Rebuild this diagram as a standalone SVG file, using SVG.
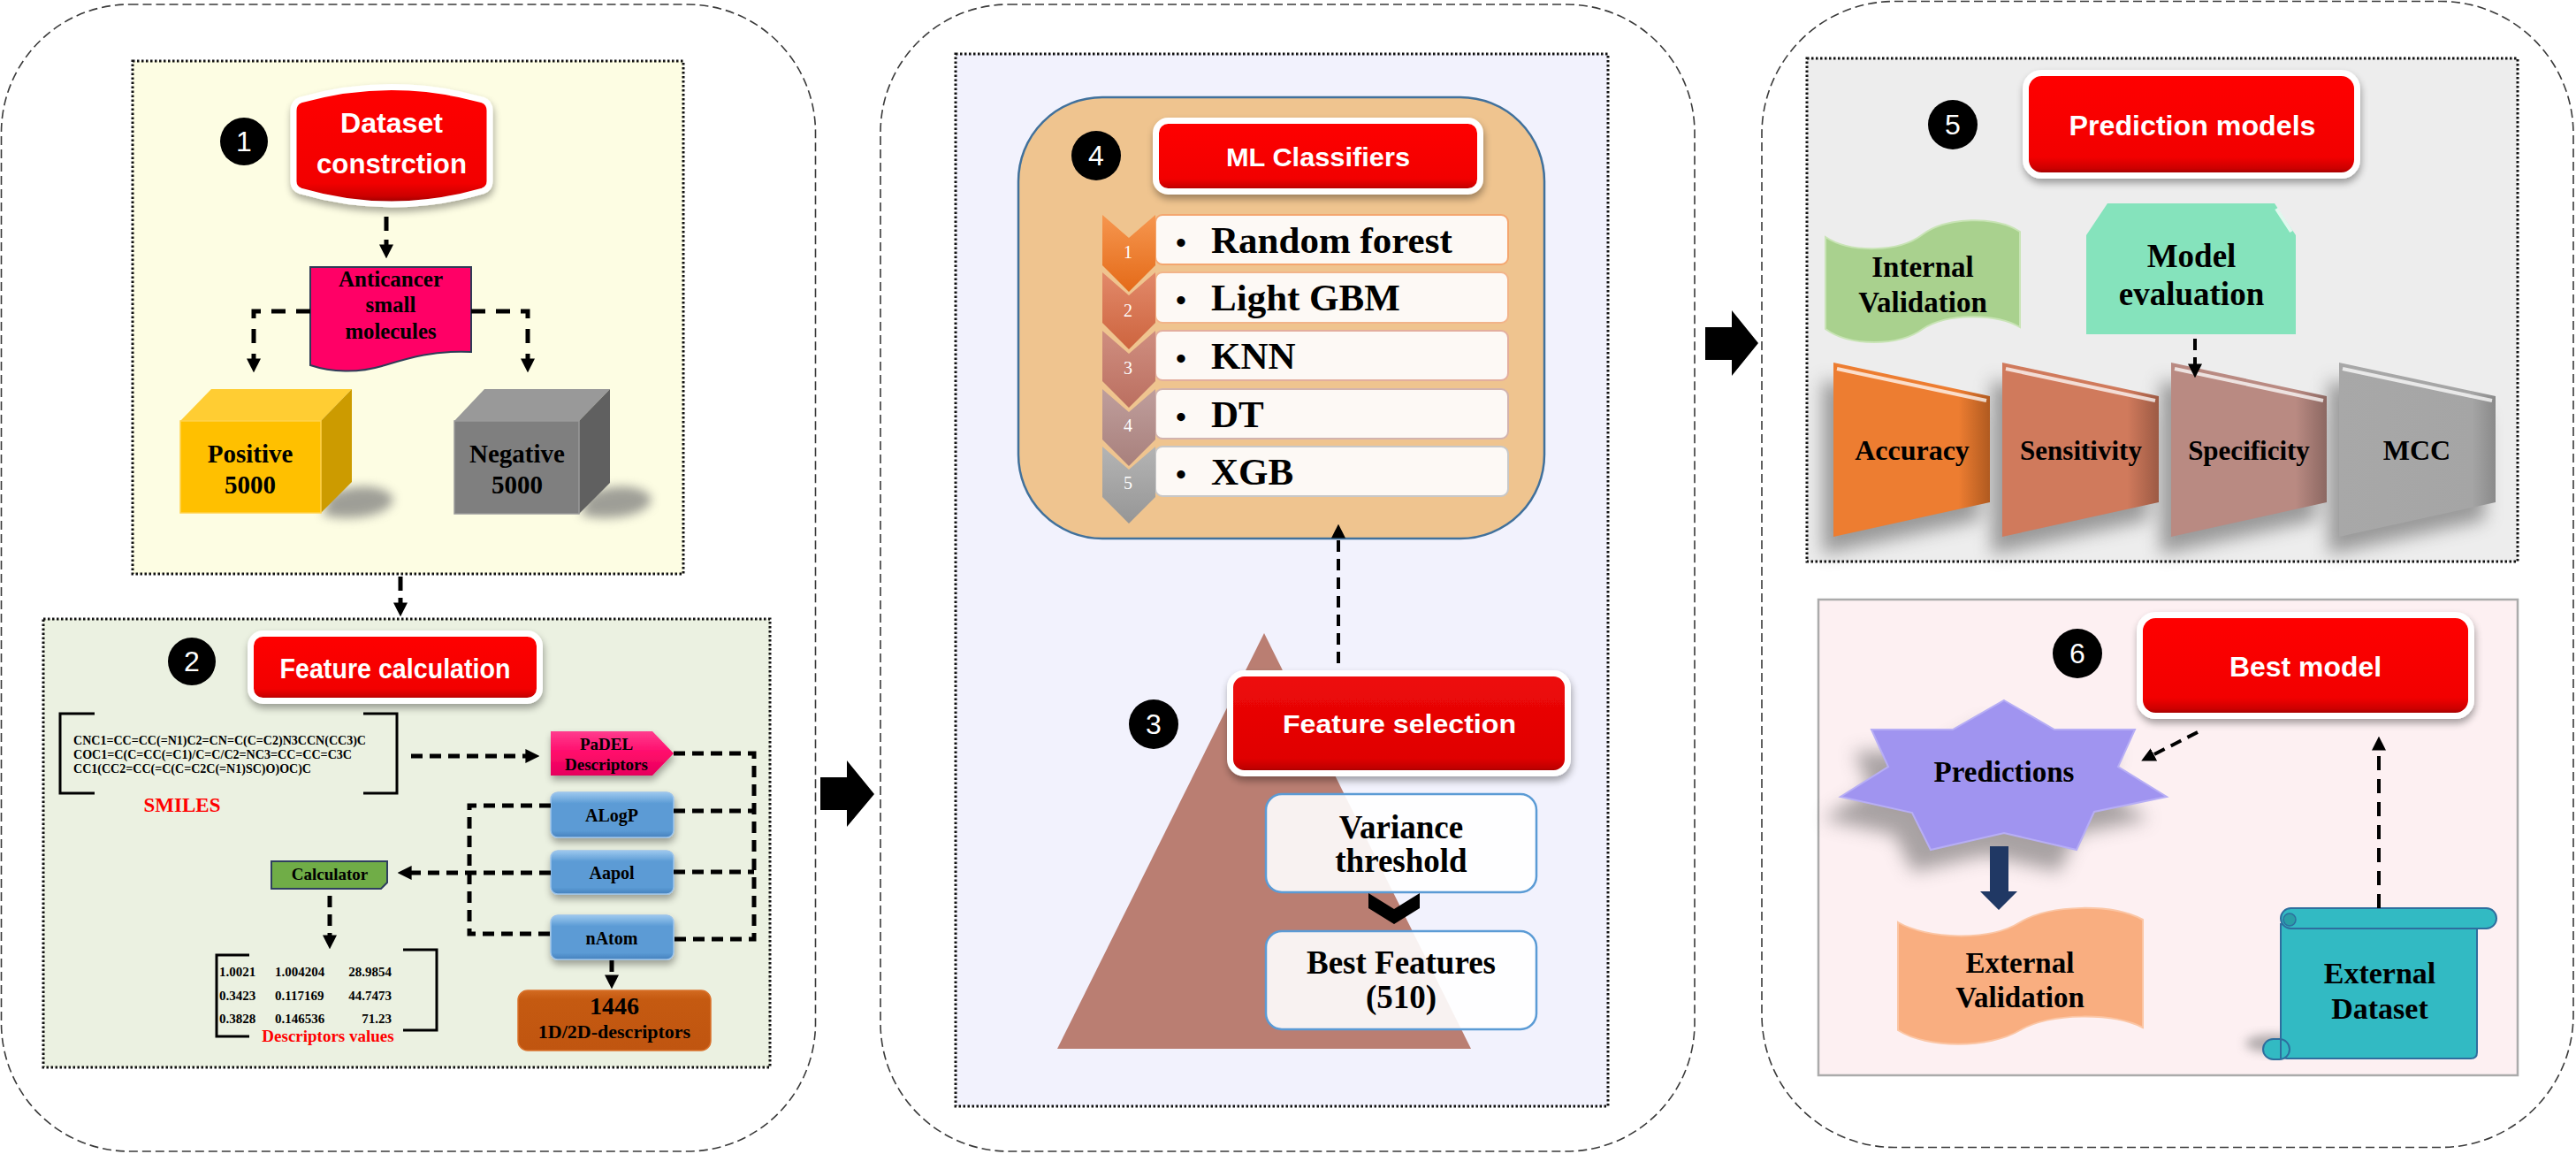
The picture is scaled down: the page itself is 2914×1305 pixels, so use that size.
<svg xmlns="http://www.w3.org/2000/svg" width="2914" height="1305" viewBox="0 0 2914 1305">
<defs>
<style>
.panel{fill:none;stroke:#3a3a3a;stroke-width:1.6;stroke-dasharray:10 5}
.dot{stroke:#111;stroke-width:3;stroke-dasharray:2.5 2.5}
.conn{fill:none;stroke:#000;stroke-width:5;stroke-dasharray:13 8}
.ttl{font-family:"Liberation Sans",Arial,sans-serif;font-weight:bold;fill:#fff;text-anchor:middle}
.num{font-family:"Liberation Sans",Arial,sans-serif;fill:#fff;text-anchor:middle;font-size:32px}
.tb{font-family:"Liberation Serif","Times New Roman",serif;font-weight:bold;fill:#000;text-anchor:middle}
.redbox{stroke:#fff;stroke-width:7}
.blue{fill:url(#blueg);stroke:#9cc3ea;stroke-width:1.5}
.item{fill:#FDF9F5;stroke:#F2B48A;stroke-width:2}
.wb{fill:#ffffff;fill-opacity:0.9;stroke:#5B9BD5;stroke-width:2.5}
.bev{fill:none;stroke:#fff;stroke-opacity:0.75;stroke-width:4}
</style>
<linearGradient id="redg" x1="0" y1="0" x2="0" y2="1">
<stop offset="0" stop-color="#FF0000"/><stop offset="0.82" stop-color="#F20000"/><stop offset="0.93" stop-color="#CC0000"/><stop offset="1" stop-color="#8B0000"/>
</linearGradient>
<linearGradient id="redg2" x1="0" y1="0" x2="0" y2="1">
<stop offset="0" stop-color="#EE0A0A"/><stop offset="0.85" stop-color="#E00000"/><stop offset="0.95" stop-color="#C00000"/><stop offset="1" stop-color="#800000"/>
</linearGradient>
<linearGradient id="blueg" x1="0" y1="0" x2="0" y2="1">
<stop offset="0" stop-color="#9CC8EE"/><stop offset="0.25" stop-color="#5B9BD5"/><stop offset="0.85" stop-color="#5B9BD5"/><stop offset="1" stop-color="#4681BD"/>
</linearGradient>
<linearGradient id="pinkg" x1="0" y1="0" x2="0" y2="1">
<stop offset="0" stop-color="#FF3D8E"/><stop offset="0.5" stop-color="#FF0A6A"/><stop offset="1" stop-color="#E6005C"/>
</linearGradient>
<linearGradient id="orgbox" x1="0" y1="0" x2="0" y2="1">
<stop offset="0" stop-color="#D26A20"/><stop offset="0.15" stop-color="#C55A11"/><stop offset="1" stop-color="#C05510"/>
</linearGradient>
<linearGradient id="ch1" x1="0" y1="0" x2="0" y2="1"><stop offset="0" stop-color="#F6964F"/><stop offset="1" stop-color="#E46A18"/></linearGradient>
<linearGradient id="ch2" x1="0" y1="0" x2="0" y2="1"><stop offset="0" stop-color="#E2896A"/><stop offset="1" stop-color="#CD643E"/></linearGradient>
<linearGradient id="ch3" x1="0" y1="0" x2="0" y2="1"><stop offset="0" stop-color="#CF8E80"/><stop offset="1" stop-color="#BB6F60"/></linearGradient>
<linearGradient id="ch4" x1="0" y1="0" x2="0" y2="1"><stop offset="0" stop-color="#BF9E9C"/><stop offset="1" stop-color="#A8807C"/></linearGradient>
<linearGradient id="ch5" x1="0" y1="0" x2="0" y2="1"><stop offset="0" stop-color="#B4B4B4"/><stop offset="1" stop-color="#969696"/></linearGradient>
<linearGradient id="tz1" x1="0" y1="0" x2="1" y2="0"><stop offset="0" stop-color="#ED7D31"/><stop offset="0.8" stop-color="#ED7D31"/><stop offset="1" stop-color="#B05A20"/></linearGradient>
<linearGradient id="tz2" x1="0" y1="0" x2="1" y2="0"><stop offset="0" stop-color="#D07A5C"/><stop offset="0.8" stop-color="#D07A5C"/><stop offset="1" stop-color="#9C5A44"/></linearGradient>
<linearGradient id="tz3" x1="0" y1="0" x2="1" y2="0"><stop offset="0" stop-color="#B98A82"/><stop offset="0.8" stop-color="#B98A82"/><stop offset="1" stop-color="#8C6862"/></linearGradient>
<linearGradient id="tz4" x1="0" y1="0" x2="1" y2="0"><stop offset="0" stop-color="#A8A8A8"/><stop offset="0.85" stop-color="#A5A5A5"/><stop offset="1" stop-color="#8A8A8A"/></linearGradient>
<filter id="sh" x="-20%" y="-30%" width="140%" height="170%">
<feGaussianBlur in="SourceAlpha" stdDeviation="4"/><feOffset dx="1" dy="5"/>
<feComponentTransfer><feFuncA type="linear" slope="0.35"/></feComponentTransfer>
<feMerge><feMergeNode/><feMergeNode in="SourceGraphic"/></feMerge>
</filter>
<filter id="blur" x="-50%" y="-50%" width="200%" height="200%"><feGaussianBlur stdDeviation="10"/></filter>
<filter id="blur2" x="-50%" y="-50%" width="200%" height="200%"><feGaussianBlur stdDeviation="6"/></filter>
<marker id="ah" viewBox="0 0 10 10" refX="1" refY="5" markerWidth="16" markerHeight="16" markerUnits="userSpaceOnUse" orient="auto">
<path d="M0,0 L10,5 L0,10 Z" fill="#000"/>
</marker>
</defs>

<rect width="2914" height="1305" fill="#fff"/>

<!-- Outer panels -->
<g id="panels">
<rect class="panel" x="1.5" y="5" width="921" height="1297" rx="145"/>
<rect class="panel" x="996" y="5" width="921" height="1297" rx="145"/>
<rect class="panel" x="1993" y="1.5" width="918" height="1296" rx="150"/>
</g>

<!-- Inner boxes -->
<g id="box1"><rect class="dot" x="150" y="69" width="623" height="580" fill="#FDFDE3"/></g>
<g id="box2"><rect class="dot" x="49" y="700" width="822" height="507" fill="#EBF1E1"/></g>
<g id="box3"><rect class="dot" x="1081" y="61" width="738" height="1190" fill="#F2F2FD"/></g>
<g id="box5"><rect class="dot" x="2044" y="66" width="804" height="569" fill="#EDEDED"/></g>
<g id="box6"><rect x="2057" y="678" width="791" height="538" fill="#FDF0F2" stroke="#ABABAB" stroke-width="2.5"/></g>

<!-- Panel 1 -->
<g id="step1">
<circle cx="276" cy="160" r="27" fill="#000"/><text class="num" x="276" y="171">1</text>
</g>
<g id="dataset">
<path d="M340,113 Q443,84 546,113 Q554,116 554,125 L554,205 Q554,213 546,216 Q443,246 340,216 Q332,213 332,205 L332,125 Q332,116 340,113 Z" fill="url(#redg)" stroke="#fff" stroke-width="7" filter="url(#sh)"/>
<text class="ttl" x="443" y="150" font-size="31" textLength="116" lengthAdjust="spacingAndGlyphs">Dataset</text>
<text class="ttl" x="443" y="196" font-size="31" textLength="170" lengthAdjust="spacingAndGlyphs">constrction</text>
</g>
<g id="anticancer">
<path d="M351,302 H533 V398 C490,396 462,405 432,414 C405,422 375,421 351,413 Z" fill="#FF0066" stroke="#2F3B57" stroke-width="2"/>
<text class="tb" x="442" y="324" font-size="25" textLength="118" lengthAdjust="spacingAndGlyphs">Anticancer</text>
<text class="tb" x="442" y="353" font-size="25">small</text>
<text class="tb" x="442" y="383" font-size="25" textLength="103" lengthAdjust="spacingAndGlyphs">molecules</text>
</g>
<g id="positive">
<path d="M372,560 C400,545 440,548 445,565 C440,585 390,590 365,582 Z" fill="#777" opacity="0.7" filter="url(#blur2)"/>
<polygon points="204,476 239,440 398,440 363,476" fill="#FFCD33"/>
<polygon points="363,476 398,440 398,545 363,580" fill="#CC9B00"/>
<rect x="204" y="476" width="159" height="104" fill="#FFC000" stroke="#FFD24D" stroke-width="1.5"/>
<text class="tb" x="283" y="523" font-size="29">Positive</text>
<text class="tb" x="283" y="558" font-size="29">5000</text>
</g>
<g id="negative">
<path d="M664,560 C692,545 732,548 737,565 C732,585 682,590 657,582 Z" fill="#777" opacity="0.7" filter="url(#blur2)"/>
<polygon points="514,476 548,440 690,440 655,476" fill="#999999"/>
<polygon points="655,476 690,440 690,546 655,581" fill="#606060"/>
<rect x="514" y="476" width="141" height="105" fill="#7F7F7F" stroke="#9a9a9a" stroke-width="1.5"/>
<text class="tb" x="585" y="523" font-size="29">Negative</text>
<text class="tb" x="585" y="558" font-size="29">5000</text>
</g>

<!-- Panel 1 box 2 -->
<g id="step2">
<circle cx="217" cy="748" r="27" fill="#000"/><text class="num" x="217" y="759">2</text>
</g>
<g id="featcalc">
<rect x="283.5" y="716.5" width="327" height="76" rx="14" fill="url(#redg)" class="redbox" filter="url(#sh)"/>
<text class="ttl" x="447" y="767" font-size="32" textLength="261" lengthAdjust="spacingAndGlyphs">Feature calculation</text>
</g>
<g id="smiles">
<path d="M107,807 H68 V897 H107 M411,807 H449 V897 H411" fill="none" stroke="#000" stroke-width="3"/>
<g font-family="Liberation Serif, Times New Roman, serif" font-weight="bold" font-size="14" fill="#000">
<text x="83" y="842" textLength="331" lengthAdjust="spacingAndGlyphs">CNC1=CC=CC(=N1)C2=CN=C(C=C2)N3CCN(CC3)C</text>
<text x="83" y="858" textLength="315" lengthAdjust="spacingAndGlyphs">COC1=C(C=CC(=C1)/C=C/C2=NC3=CC=CC=C3C</text>
<text x="83" y="874" textLength="269" lengthAdjust="spacingAndGlyphs">CC1(CC2=CC(=C(C=C2C(=N1)SC)O)OC)C</text>
</g>
<text class="tb" x="206" y="918" font-size="23" style="fill:#FF0000">SMILES</text>
</g>
<g id="padel">
<polygon points="623,827 738,827 762,852 738,877 623,877" fill="url(#pinkg)" filter="url(#sh)"/>
<text class="tb" x="686" y="848" font-size="19">PaDEL</text>
<text class="tb" x="686" y="871" font-size="19">Descriptors</text>
</g>
<g id="alogp">
<rect class="blue" x="623" y="896" width="139" height="51" rx="8" filter="url(#sh)"/>
<text class="tb" x="692" y="929" font-size="20">ALogP</text>
</g>
<g id="aapol">
<rect class="blue" x="623" y="962" width="139" height="49" rx="8" filter="url(#sh)"/>
<text class="tb" x="692" y="994" font-size="20">Aapol</text>
</g>
<g id="natom">
<rect class="blue" x="623" y="1035" width="139" height="50" rx="8" filter="url(#sh)"/>
<text class="tb" x="692" y="1068" font-size="20">nAtom</text>
</g>
<g id="calculator">
<path d="M307,974 H438 V998 L431,1005 H307 Z" fill="#70AD47" stroke="#2F3F5F" stroke-width="2"/>
<text class="tb" x="373" y="995" font-size="19">Calculator</text>
</g>
<g id="descvalues">
<path d="M282,1080 H245 V1172 H282 M456,1074 H494 V1165 H456" fill="none" stroke="#000" stroke-width="3"/>
<g font-family="Liberation Serif, Times New Roman, serif" font-weight="bold" font-size="15" fill="#000">
<text x="248" y="1104">1.0021</text><text x="311" y="1104">1.004204</text><text x="443" y="1104" text-anchor="end">28.9854</text>
<text x="248" y="1131">0.3423</text><text x="311" y="1131">0.117169</text><text x="443" y="1131" text-anchor="end">44.7473</text>
<text x="248" y="1157">0.3828</text><text x="311" y="1157">0.146536</text><text x="443" y="1157" text-anchor="end">71.23</text>
</g>
<text class="tb" x="371" y="1178" font-size="19" style="fill:#FF0000">Descriptors values</text>
</g>
<g id="d1446">
<rect x="586" y="1120" width="218" height="68" rx="11" fill="url(#orgbox)" stroke="#D9712B" stroke-width="1.5"/>
<text class="tb" x="695" y="1147" font-size="28">1446</text>
<text class="tb" x="695" y="1174" font-size="22">1D/2D-descriptors</text>
</g>

<!-- Panel 2 -->
<g id="mlbox">
<rect x="1152" y="110" width="595" height="499" rx="95" fill="#EFC48F" stroke="#41719C" stroke-width="2.5"/>
</g>
<g id="step4">
<circle cx="1240" cy="176" r="28" fill="#000"/><text class="num" x="1240" y="187">4</text>
</g>
<g id="mltitle">
<rect x="1307.5" y="136.5" width="367" height="80" rx="14" fill="url(#redg)" class="redbox" filter="url(#sh)"/>
<text class="ttl" x="1491" y="188" font-size="30" textLength="208" lengthAdjust="spacingAndGlyphs">ML Classifiers</text>
</g>
<g id="mllist">
<rect class="item" x="1307" y="243" width="399" height="56" rx="8" style="stroke:#F4A66F"/>
<rect class="item" x="1307" y="308" width="399" height="57" rx="8"/>
<rect class="item" x="1307" y="374" width="399" height="56" rx="8" style="stroke:#E3AE9E"/>
<rect class="item" x="1307" y="440" width="399" height="56" rx="8" style="stroke:#D2B3AE"/>
<rect class="item" x="1307" y="505" width="399" height="56" rx="8" style="stroke:#C8C8C8"/>
<polygon points="1247,505 1277,531 1307,505 1307,562 1277,592 1247,562" fill="url(#ch5)"/>
<polygon points="1247,440 1277,466 1307,440 1307,497 1277,527 1247,497" fill="url(#ch4)"/>
<polygon points="1247,374 1277,400 1307,374 1307,431 1277,461 1247,431" fill="url(#ch3)"/>
<polygon points="1247,308 1277,334 1307,308 1307,365 1277,395 1247,365" fill="url(#ch2)"/>
<polygon points="1247,243 1277,269 1307,243 1307,300 1277,330 1247,300" fill="url(#ch1)"/>
<g font-family="Liberation Serif, Times New Roman, serif" font-size="20" fill="#fff" text-anchor="middle">
<text x="1276" y="292">1</text><text x="1276" y="358">2</text><text x="1276" y="423">3</text><text x="1276" y="488">4</text><text x="1276" y="553">5</text>
</g>
<g font-family="Liberation Serif, Times New Roman, serif" font-weight="bold" font-size="43" fill="#000">
<text y="286"><tspan x="1330" font-size="34">•</tspan><tspan x="1370">Random forest</tspan></text>
<text y="351"><tspan x="1330" font-size="34">•</tspan><tspan x="1370">Light GBM</tspan></text>
<text y="417"><tspan x="1330" font-size="34">•</tspan><tspan x="1370">KNN</tspan></text>
<text y="483"><tspan x="1330" font-size="34">•</tspan><tspan x="1370">DT</tspan></text>
<text y="548"><tspan x="1330" font-size="34">•</tspan><tspan x="1370">XGB</tspan></text>
</g>
</g>
<g id="pyramid">
<polygon points="1430,716 1196,1186 1664,1186" fill="#BA7E72"/>
</g>
<g id="step3">
<circle cx="1305" cy="819" r="28" fill="#000"/><text class="num" x="1305" y="830">3</text>
</g>
<g id="featsel">
<rect x="1391.5" y="761.5" width="382" height="113" rx="16" fill="url(#redg2)" class="redbox" filter="url(#sh)"/>
<text class="ttl" x="1583" y="829" font-size="30" textLength="264" lengthAdjust="spacingAndGlyphs">Feature selection</text>
</g>
<g id="variance">
<rect class="wb" x="1432" y="898" width="306" height="111" rx="18"/>
<text class="tb" x="1585" y="948" font-size="37">Variance</text>
<text class="tb" x="1585" y="986" font-size="37">threshold</text>
</g>
<g id="chev">
<path d="M1548,1010 L1577,1028 L1606,1010 L1606,1027 L1577,1045 L1548,1027 Z" fill="#000"/>
</g>
<g id="bestfeat">
<rect class="wb" x="1432" y="1053" width="306" height="111" rx="18"/>
<text class="tb" x="1585" y="1101" font-size="37">Best Features</text>
<text class="tb" x="1585" y="1140" font-size="37">(510)</text>
</g>

<!-- Panel 3 -->
<g id="step5">
<circle cx="2209" cy="141" r="28" fill="#000"/><text class="num" x="2209" y="152">5</text>
</g>
<g id="predmodels">
<rect x="2291.5" y="82.5" width="375" height="116" rx="18" fill="url(#redg)" class="redbox" filter="url(#sh)"/>
<text class="ttl" x="2480" y="153" font-size="32" textLength="279" lengthAdjust="spacingAndGlyphs">Prediction models</text>
</g>
<g id="internal">
<path d="M2065,268 C2092,286 2148,286 2175,265 C2202,245 2258,244 2285,262 L2285,370 C2258,354 2202,354 2175,372 C2148,392 2092,392 2065,372 Z" fill="#A9D18E" stroke="#C9E4B6" stroke-width="2"/>
<text class="tb" x="2175" y="313" font-size="33">Internal</text>
<text class="tb" x="2175" y="353" font-size="33">Validation</text>
</g>
<g id="modeleval">
<polygon points="2360,266 2384,230 2573,230 2597,266 2597,378 2360,378" fill="#85E3BC"/>
<path d="M2575,236 L2592,262" class="bev"/>
<text class="tb" x="2479" y="302" font-size="37">Model</text>
<text class="tb" x="2479" y="345" font-size="37">evaluation</text>
</g>
<g id="metrics">
<g filter="url(#blur)" fill="#555" opacity="0.55">
<polygon points="2062,430 2239,468 2239,588 2062,627"/>
<polygon points="2253,430 2430,468 2430,588 2253,627"/>
<polygon points="2444,430 2620,468 2620,588 2444,627"/>
<polygon points="2634,430 2811,468 2811,588 2634,627"/>
</g>
<g id="accuracy"><polygon points="2074,410 2251,448 2251,568 2074,607" fill="url(#tz1)"/><path class="bev" d="M2078,417 L2247,453"/><text class="tb" x="2163" y="520" font-size="32">Accuracy</text></g>
<g id="sensitivity"><polygon points="2265,410 2442,448 2442,568 2265,607" fill="url(#tz2)"/><path class="bev" d="M2269,417 L2438,453"/><text class="tb" x="2354" y="520" font-size="31">Sensitivity</text></g>
<g id="specificity"><polygon points="2456,410 2632,448 2632,568 2456,607" fill="url(#tz3)"/><path class="bev" d="M2460,417 L2628,453"/><text class="tb" x="2544" y="520" font-size="31">Specificity</text></g>
<g id="mcc"><polygon points="2646,410 2823,448 2823,568 2646,607" fill="url(#tz4)"/><path class="bev" d="M2650,417 L2819,453"/><text class="tb" x="2734" y="520" font-size="32">MCC</text></g>
</g>
<g id="step6">
<circle cx="2350" cy="739" r="28" fill="#000"/><text class="num" x="2350" y="750">6</text>
</g>
<g id="bestmodel">
<rect x="2420.5" y="695.5" width="375" height="114" rx="18" fill="url(#redg)" class="redbox" filter="url(#sh)"/>
<text class="ttl" x="2608" y="765" font-size="32" textLength="172" lengthAdjust="spacingAndGlyphs">Best model</text>
</g>
<g id="predictions">
<polygon points="2247,817 2304,850 2395,850 2376,892 2431,926 2349,943 2329,986 2247,967 2164,986 2143,944 2062,926 2116,892 2097,850 2189,850" fill="#555" opacity="0.5" filter="url(#blur)"/>
<polygon points="2267,792 2324,825 2415,825 2396,867 2451,901 2369,918 2349,961 2267,942 2184,961 2163,919 2082,901 2136,867 2117,825 2209,825" fill="#A094F0" stroke="#B7AEF5" stroke-width="2"/>
<text class="tb" x="2267" y="884" font-size="33">Predictions</text>
</g>
<g id="navyarrow">
<polygon points="2251,957 2272,957 2272,1008 2282,1008 2261,1029 2240,1008 2251,1008" fill="#203864"/>
</g>
<g id="extval">
<path d="M2147,1043 C2180,1062 2250,1065 2285,1043 C2320,1022 2390,1022 2424,1040 L2424,1162 C2390,1145 2320,1145 2285,1165 C2250,1186 2180,1186 2147,1165 Z" fill="#F9AE80" stroke="#FBC6A5" stroke-width="2"/>
<text class="tb" x="2285" y="1100" font-size="33">External</text>
<text class="tb" x="2285" y="1139" font-size="33">Validation</text>
</g>
<g id="extdata">
<ellipse cx="2570" cy="1180" rx="30" ry="10" fill="#666" opacity="0.5" filter="url(#blur2)"/>
<path d="M2580,1045 V1190 Q2580,1197 2587,1197 H2795 Q2802,1197 2802,1190 V1050 Z" fill="#32BAC3" stroke="#2E6E9E" stroke-width="2"/>
<rect x="2580" y="1027" width="244" height="23" rx="11.5" fill="#32BAC3" stroke="#2E6E9E" stroke-width="2"/>
<circle cx="2590" cy="1040" r="7" fill="#2A9EA6" stroke="#2E6E9E" stroke-width="1.5"/>
<rect x="2560" y="1175" width="30" height="23" rx="11.5" fill="#32BAC3" stroke="#2E6E9E" stroke-width="2"/>
<path d="M2580,1176 V1197" stroke="#2E6E9E" stroke-width="2" fill="none"/>
<text class="tb" x="2692" y="1112" font-size="34">External</text>
<text class="tb" x="2692" y="1152" font-size="34">Dataset</text>
</g>

<!-- Big flow arrows -->
<g id="flowarrows">
<polygon points="928,879 958,879 958,860 989,898 958,935 958,916 928,916" fill="#000"/>
<polygon points="1929,370 1959,370 1959,351 1989,388 1959,425 1959,407 1929,407" fill="#000"/>
</g>

<!-- Connectors -->
<g id="connectors">
<path class="conn" d="M437,245 V278" marker-end="url(#ah)" style="stroke-dasharray:16 10"/>
<path class="conn" d="M351,352 H287 V407" marker-end="url(#ah)" style="stroke-dasharray:16 12"/>
<path class="conn" d="M533,352 H597 V407" marker-end="url(#ah)" style="stroke-dasharray:16 12"/>
<path class="conn" d="M453,652 V683" marker-end="url(#ah)" style="stroke-dasharray:16 8"/>
<path class="conn" d="M465,855 H596" marker-end="url(#ah)"/>
<path class="conn" d="M762,852 H853 V1062 H762 M762,917 H853 M762,986 H853"/>
<path class="conn" d="M623,911 H531 V1056 H623"/>
<path class="conn" d="M623,987 H464" marker-end="url(#ah)"/>
<path class="conn" d="M373,1013 V1059" marker-end="url(#ah)"/>
<path class="conn" d="M692,1086 V1104" marker-end="url(#ah)"/>
<path class="conn" d="M1514,750 V607" marker-end="url(#ah)" style="stroke-width:4"/>
<path class="conn" d="M2483,383 V413" marker-end="url(#ah)" style="stroke-width:4"/>
<path class="conn" d="M2486,828 L2435,854" marker-end="url(#ah)" style="stroke-width:4"/>
<path class="conn" d="M2691,1027 V847" marker-end="url(#ah)" style="stroke-width:4;stroke-dasharray:16 10"/>
</g>
</svg>
